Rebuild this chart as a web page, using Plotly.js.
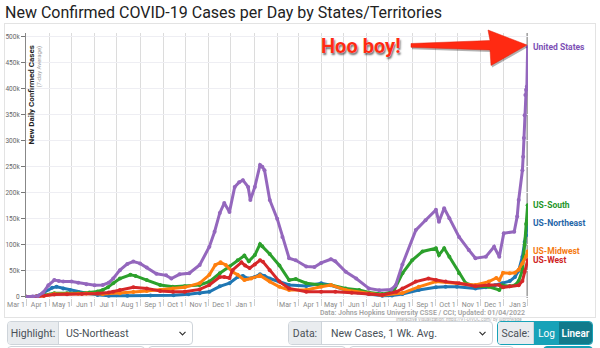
<!DOCTYPE html>
<html><head><meta charset="utf-8">
<script src="https://cdn.plot.ly/plotly-3.0.1.min.js"></script>
<style>
body{margin:0;background:#fff;font-family:Roboto,"Noto Sans",sans-serif;}
#wrap{position:relative;width:600px;height:348px;overflow:hidden;}
#chart{position:absolute;left:0;top:0;width:600px;height:348px;}
#frame{position:absolute;left:4px;top:23px;width:592px;height:295px;border:1px solid #e3e3e3;pointer-events:none;box-sizing:border-box;}
.grp{position:absolute;top:321px;height:24px;display:flex;border:1px solid #ced4da;border-radius:4px;overflow:hidden;font-size:10.5px;color:#495057;box-sizing:border-box;background:#fff;}
.lab{background:#e9ecef;display:flex;align-items:center;justify-content:center;border-right:1px solid #ced4da;box-sizing:border-box;flex:none;}
.sel{display:flex;align-items:center;padding:0 7px;flex:1;position:relative;}
.sel svg{position:absolute;right:6px;top:9px;}
.btn{display:flex;align-items:center;justify-content:center;color:#fff;box-sizing:border-box;font-size:10px;flex:none;}
.row2{position:absolute;top:346px;height:20px;border:1px solid #ced4da;border-radius:4px;box-sizing:border-box;}
</style>
</head><body>
<div id="wrap">
<div id="chart"></div>
<div id="frame"></div>
<div class="grp" style="left:7px;width:186px;"><div class="lab" style="width:51px;">Highlight:</div><div class="sel">US-Northeast<svg width="7" height="5" viewBox="0 0 7 5"><path d="M0.5 0.8 L3.5 3.8 L6.5 0.8" stroke="#333" stroke-width="1.2" fill="none"/></svg></div></div>
<div class="grp" style="left:288px;width:205px;"><div class="lab" style="width:33px;">Data:</div><div class="sel" style="padding-left:9px;">New Cases, 1 Wk. Avg.<svg width="7" height="5" viewBox="0 0 7 5"><path d="M0.5 0.8 L3.5 3.8 L6.5 0.8" stroke="#333" stroke-width="1.2" fill="none"/></svg></div></div>
<div class="grp" style="left:497px;width:96px;border-color:#17a2b8;"><div class="lab" style="width:36px;border-color:#ced4da;">Scale:</div><div class="btn" style="background:#17a2b8;width:25px;">Log</div><div class="btn" style="background:#117a8b;width:33px;font-weight:600;">Linear</div></div>
<div class="row2" style="left:7px;width:138px;"></div>
<div class="row2" style="left:148px;width:198px;"></div>
<div class="row2" style="left:349px;width:165px;"></div>
<div class="row2" style="left:543px;width:50px;background:#17a2b8;border-color:#17a2b8;"></div>
</div>
<script>
// ---- Data (7-day average new cases) ----
const usDates = ['2020-03-01','2020-03-10','2020-03-17','2020-03-24','2020-03-31','2020-04-08','2020-04-14','2020-04-20','2020-05-01','2020-05-10','2020-05-21','2020-06-01','2020-06-12','2020-06-20','2020-06-26','2020-07-05','2020-07-15','2020-07-23','2020-08-01','2020-08-10','2020-08-23','2020-09-05','2020-09-12','2020-09-23','2020-10-06','2020-10-20','2020-11-02','2020-11-09','2020-11-16','2020-11-22','2020-11-29','2020-12-06','2020-12-12','2020-12-17','2020-12-24','2020-12-27','2021-01-02','2021-01-09','2021-01-12','2021-01-15','2021-01-22','2021-02-01','2021-02-08','2021-02-17','2021-02-26','2021-03-12','2021-03-23','2021-04-01','2021-04-14','2021-04-20','2021-05-04','2021-05-18','2021-06-04','2021-06-18','2021-07-04','2021-07-10','2021-07-19','2021-08-06','2021-08-19','2021-09-02','2021-09-06','2021-09-13','2021-09-20','2021-10-03','2021-10-16','2021-10-25','2021-11-08','2021-11-19','2021-11-26','2021-12-02','2021-12-16','2021-12-20','2021-12-22','2021-12-27','2021-12-28','2021-12-29','2021-12-30','2021-12-31','2022-01-01','2022-01-02','2022-01-03'];
const usCases = [30,200,1500,8000,22000,32000,30000,29000,29000,27000,24000,22000,22500,27000,35000,51000,63000,67500,64000,56000,44000,41000,35000,43000,45000,61000,96000,125000,161000,180000,163000,211000,220000,224000,211000,186000,211000,253000,250000,243000,186000,150000,115000,74000,70000,58000,57000,65000,72000,68000,48000,35000,16000,12500,14000,22000,62000,128000,147000,167000,144000,170000,151000,115000,90000,74000,77000,96000,77000,122000,125000,154000,186000,243000,269000,305000,349000,388000,398000,404000,480000];

const southDates = ['2020-03-01','2020-03-15','2020-03-25','2020-04-08','2020-04-25','2020-05-10','2020-05-25','2020-06-05','2020-06-12','2020-06-19','2020-06-26','2020-07-05','2020-07-19','2020-07-26','2020-08-10','2020-08-28','2020-09-14','2020-09-30','2020-10-20','2020-11-02','2020-11-16','2020-11-29','2020-12-10','2020-12-19','2020-12-25','2021-01-02','2021-01-09','2021-01-12','2021-01-22','2021-02-04','2021-02-17','2021-02-26','2021-03-12','2021-04-01','2021-04-14','2021-05-04','2021-05-22','2021-06-04','2021-06-22','2021-07-07','2021-07-19','2021-08-01','2021-08-15','2021-09-02','2021-09-06','2021-09-13','2021-09-20','2021-10-03','2021-10-12','2021-10-25','2021-11-12','2021-11-26','2021-11-30','2021-12-10','2021-12-17','2021-12-22','2021-12-27','2021-12-30','2022-01-01','2022-01-03'];
const southCases = [0,300,3000,6500,6500,6500,8000,10000,13000,18000,26000,35000,42000,40000,32000,22500,19000,20000,22500,29000,45000,58000,70000,79000,68000,80000,101000,97000,82000,60000,32000,34000,26000,22500,22500,16000,13000,8000,5000,10000,45000,70000,87000,93000,80000,93000,77000,45000,26000,20000,19000,13000,22000,20000,22000,30000,51000,100000,140000,176000];

const neDates = ['2020-03-01','2020-03-15','2020-03-25','2020-04-05','2020-04-11','2020-04-20','2020-04-29','2020-05-10','2020-05-21','2020-06-05','2020-06-20','2020-07-15','2020-08-15','2020-09-15','2020-10-05','2020-10-20','2020-11-02','2020-11-16','2020-11-29','2020-12-10','2020-12-17','2020-12-24','2021-01-02','2021-01-09','2021-01-15','2021-01-22','2021-02-04','2021-02-17','2021-03-12','2021-04-01','2021-04-14','2021-05-04','2021-05-20','2021-06-04','2021-06-22','2021-07-05','2021-07-19','2021-08-10','2021-09-02','2021-09-15','2021-09-30','2021-10-25','2021-11-08','2021-11-20','2021-11-30','2021-12-10','2021-12-17','2021-12-22','2021-12-27','2021-12-30','2022-01-01','2022-01-03'];
const neCases = [0,500,8000,17000,19000,16000,13000,9000,6500,3500,2000,2000,2200,2800,4500,6500,9600,20000,26000,38000,40000,35000,38000,43000,40000,35000,29000,22500,20500,26000,22000,13000,8000,5000,2000,2500,5000,13000,18000,19000,19000,16000,18000,22000,26000,30000,38000,50000,77000,105000,118000,141000];

const mwDates = ['2020-03-01','2020-03-15','2020-03-25','2020-04-08','2020-04-25','2020-05-10','2020-05-21','2020-06-12','2020-07-05','2020-07-23','2020-08-10','2020-08-28','2020-09-14','2020-09-30','2020-10-20','2020-11-02','2020-11-10','2020-11-17','2020-11-24','2020-12-03','2020-12-10','2020-12-19','2020-12-28','2021-01-09','2021-01-22','2021-02-04','2021-02-17','2021-03-12','2021-04-01','2021-04-14','2021-05-04','2021-06-04','2021-06-22','2021-07-19','2021-08-10','2021-09-02','2021-09-30','2021-10-25','2021-11-12','2021-11-22','2021-11-26','2021-12-01','2021-12-10','2021-12-17','2021-12-22','2021-12-27','2022-01-01','2022-01-03'];
const mwCases = [0,200,2000,5000,5000,5500,6000,5000,6500,9000,11000,13000,16000,18000,26000,42000,61000,66000,61000,48000,42000,32000,35000,41000,29000,19000,13000,13000,19000,22500,13000,6000,3000,7000,19000,29000,26000,22500,29000,36000,32000,46000,45000,46000,52000,64000,78000,87000];

const westDates = ['2020-03-01','2020-03-15','2020-03-25','2020-04-08','2020-04-25','2020-05-15','2020-06-05','2020-06-20','2020-06-26','2020-07-05','2020-07-23','2020-08-10','2020-08-28','2020-09-14','2020-09-30','2020-10-20','2020-11-02','2020-11-16','2020-11-22','2020-11-29','2020-12-03','2020-12-15','2020-12-20','2020-12-26','2021-01-02','2021-01-09','2021-01-13','2021-01-22','2021-02-04','2021-02-17','2021-03-12','2021-04-01','2021-04-20','2021-05-12','2021-06-04','2021-06-22','2021-07-11','2021-07-19','2021-08-06','2021-08-23','2021-09-02','2021-09-15','2021-10-03','2021-10-25','2021-11-12','2021-11-26','2021-12-01','2021-12-10','2021-12-22','2021-12-27','2021-12-30','2022-01-03'];
const westCases = [0,300,2000,4000,4500,5000,6000,8000,9600,13000,18000,16000,11000,9600,9600,14000,22500,38000,38000,36000,51000,66000,60000,55000,62000,70000,67000,51000,29000,16000,9600,9600,9600,7700,5000,3500,9600,16000,29000,35000,32000,29000,26000,20000,22500,22500,18000,20000,22000,30000,48000,70000];

const seriesNames = ['US-Northeast','US-South','US-Midwest','US-West','United States'];
const seriesColors = ['#1f77b4','#2ca02c','#ff7f0e','#d62728','#9467bd'];
const labelColors = ['#1f66a8','#25962a','#f57a10','#cf2424','#7d51b5'];

const tickDates = ['2020-03-01','2020-04-01','2020-05-01','2020-06-01','2020-07-01','2020-08-01','2020-09-01','2020-10-01','2020-11-01','2020-12-01','2021-01-01','2021-02-01','2021-03-01','2021-04-01','2021-05-01','2021-06-01','2021-07-01','2021-08-01','2021-09-01','2021-10-01','2021-11-01','2021-12-01','2022-01-03'];
const tickLabels = ['Mar 1','Apr 1','May 1','Jun 1','Jul 1','Aug 1','Sep 1','Oct 1','Nov 1','Dec 1','Jan 1','','Mar 1','Apr 1','May 1','Jun 1','Jul 1','Aug 1','Sep 1','Oct 1','Nov 1','Dec 1','Jan 3'];
const yTickVals = [0,50000,100000,150000,200000,250000,300000,350000,400000,450000,500000];
const yTickText = ['0','50k','100k','150k','200k','250k','300k','350k','400k','450k','500k'];

// ---- Build ----
const xs = [neDates, southDates, mwDates, westDates, usDates];
const ys = [neCases, southCases, mwCases, westCases, usCases];
const traces = xs.map((x,i)=>({
  type:'scatter', mode:'lines+markers', x:x, y:ys[i], name:seriesNames[i],
  line:{color:seriesColors[i], width:3}, marker:{color:seriesColors[i], size:4},
  hoverinfo:'skip'
}));

// pixel helpers for annotation/shape placement (plot area 26..528 x 33..298)
const PL=26, PR=528, PT=33, PB=298;
const px = p => (p-PL)/(PR-PL);
const py = p => (PB-p)/(PB-PT);

const annotations = xs.map((x,i)=>({
  x:x[x.length-1], y:ys[i][ys[i].length-1], xref:'x', yref:'y',
  text:seriesNames[i], showarrow:false, xanchor:'left', yanchor:'middle', xshift:3,
  font:{family:'Roboto', size:8.5, weight:700, color:labelColors[i]}
}));
annotations.push(
  {xref:'paper', yref:'paper', x:px(31), y:py(44), xanchor:'center', yanchor:'top', textangle:-90, showarrow:false,
   text:'New Daily Confirmed Cases', font:{family:'Roboto', size:8, weight:700, color:'#222'}},
  {xref:'paper', yref:'paper', x:px(38.5), y:py(44), xanchor:'center', yanchor:'top', textangle:-90, showarrow:false,
   text:'(7-day Average)', font:{family:'Roboto', size:6, color:'#999'}},
  {xref:'paper', yref:'paper', x:px(361), y:py(46), xanchor:'center', yanchor:'middle', showarrow:false,
   text:'Hoo boy!', font:{family:'Roboto', size:20, weight:700, color:'#ff2a12', shadow:'0 0 1px #fff, 1px 1.5px 2px rgba(0,0,0,0.6)'}},
  {xref:'paper', yref:'paper', x:px(527), y:py(312.5), xanchor:'right', yanchor:'middle', showarrow:false,
   text:'Data: Johns Hopkins University CSSE / CCI; Updated: 01/04/2022', font:{family:'Roboto', size:7, weight:600, color:'#a3a3a3'}},
  {xref:'paper', yref:'paper', x:px(527), y:py(318.5), xanchor:'right', yanchor:'middle', showarrow:false,
   text:'Interactive Visualization: https://91-DIVOC.com/ by @profwade_', font:{family:'Roboto', size:4.5, color:'#aaa'}}
);

function arrowPath(dx, dy){
  const pts = [[411,43.5],[490,40.5],[488,30],[527,45],[491,65.5],[490,50],[411,47.3]];
  return 'M ' + pts.map(p=>px(p[0]+dx)+' '+py(p[1]+dy)).join(' L ') + ' Z';
}

const shapes = [
  {type:'line', xref:'x', yref:'paper', x0:'2022-01-03', x1:'2022-01-03', y0:0, y1:1, line:{color:'#a5a5a5', width:2.5}, layer:'below'},
  {type:'path', xref:'paper', yref:'paper', path:arrowPath(1,2), fillcolor:'rgba(0,0,0,0.3)', line:{width:0}},
  {type:'path', xref:'paper', yref:'paper', path:arrowPath(0,0), fillcolor:'#ff2a12', line:{color:'#e01e08', width:0.5}}
];

const layout = {
  width:600, height:348,
  margin:{l:PL, r:600-PR, t:PT, b:348-PB},
  paper_bgcolor:'rgba(0,0,0,0)', plot_bgcolor:'#fff',
  showlegend:false,
  title:{text:'New Confirmed COVID-19 Cases per Day by States/Territories', x:5/600, xref:'container', xanchor:'left',
         y:1-12/348, yref:'container', yanchor:'middle', font:{family:'Roboto', size:16, color:'#222'}},
  xaxis:{type:'date', range:['2020-03-01','2022-01-03 12:00'], tickvals:tickDates, ticktext:tickLabels,
         ticklabelshift:-10, ticklabelstandoff:-7, ticks:'outside', ticklen:7, tickcolor:'#d0d0d0',
         tickfont:{family:'Roboto', size:7, color:'#8a8a8a'}, showgrid:true, gridcolor:'#dcdcdc', gridwidth:1,
         zeroline:false, showline:false, fixedrange:true},
  yaxis:{range:[-2500,507000], tickvals:yTickVals, ticktext:yTickText, ticks:'outside', ticklen:4, tickcolor:'#777',
         tickfont:{family:'Roboto', size:6.5, color:'#666'}, showgrid:true, gridcolor:'#eeeef3',
         zeroline:false, showline:true, linecolor:'#888', linewidth:1, fixedrange:true},
  annotations:annotations, shapes:shapes
};

Plotly.newPlot('chart', traces, layout, {displayModeBar:false, staticPlot:true});
</script>
</body></html>
